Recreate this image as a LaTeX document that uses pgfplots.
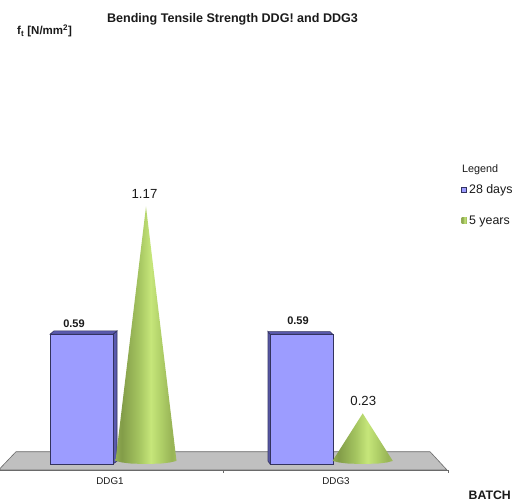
\documentclass[border=0pt]{standalone}
\usepackage{fontspec}
\setmainfont{Liberation Sans}
\usepackage{pgfplots}
\pgfplotsset{compat=1.18}

\definecolor{barfront}{HTML}{9C9CFF}
\definecolor{barside}{HTML}{5A5AAE}
\definecolor{barline}{HTML}{33335F}
\definecolor{floorgrey}{HTML}{C0C0C0}
\definecolor{floorline}{HTML}{6A6A6A}
\definecolor{conelegend}{HTML}{9CBB5C}
\definecolor{txt}{HTML}{1A1A1A}

% The lit cone surface: darker left flank, bright stripe right of centre
\pgfdeclarehorizontalshading{conegreen}{100bp}{
  color(0bp)=(white);
  color(25bp)=({rgb,255:red,146;green,172;blue,84});
  color(30bp)=({rgb,255:red,130;green,156;blue,72});
  color(44bp)=({rgb,255:red,164;green,196;blue,96});
  color(54bp)=({rgb,255:red,198;green,230;blue,122});
  color(62bp)=({rgb,255:red,176;green,208;blue,104});
  color(71bp)=({rgb,255:red,152;green,180;blue,86});
  color(75bp)=({rgb,255:red,160;green,188;blue,94});
  color(100bp)=(white)}

\newcommand{\fs}[1]{\fontsize{#1bp}{#1bp}\selectfont}

\begin{document}
\begin{tikzpicture}[x=1bp,y=1bp]
\useasboundingbox (0,0) rectangle (516,501);
\fill[white] (0,0) rectangle (516,501);
\begin{axis}[
  at={(0,0)}, anchor=south west,
  scale only axis, width=516bp, height=501bp,
  xmin=0, xmax=516,
  ymin=-0.16818, ymax=2.10909,
  hide axis, clip=false,
  legend style={at={(axis cs:461,1.28)}, anchor=north west, draw=none, fill=none,
    font=\fs{12.4}\color{txt}, row sep=16.5bp, inner sep=0pt,
    /tikz/every even column/.style={column sep=3bp}},
  legend cell align=left,
]
% Floor of the chart
\addplot[forget plot, draw=floorline, line width=0.6bp, fill=floorgrey] coordinates
  {(0,-0.0205) (16,0.0559) (430,0.0559) (447,-0.0273) (0,-0.0273)} -- cycle;
\addplot[forget plot, draw=floorline, line width=1bp] coordinates {(0,-0.0273) (448,-0.0273)};
\addplot[forget plot, draw=floorline, line width=0.7bp] coordinates {(223,-0.0273) (223,-0.0409)};
\addplot[forget plot, draw=floorline, line width=0.7bp] coordinates {(448,-0.0273) (448,-0.0409)};

% 28 days: side and top faces, then the fronts
\addplot[forget plot, draw=barline, line width=0.6bp, fill=barside] coordinates
  {(113,0) (113,0.59) (117,0.605) (117,0.013)} -- cycle;
\addplot[forget plot, draw=barline, line width=0.6bp, fill=barside] coordinates
  {(50,0.59) (54,0.605) (117,0.605) (113,0.59)} -- cycle;
\addplot[forget plot, draw=barline, line width=0.6bp, fill=barside] coordinates
  {(270,0) (270,0.59) (268,0.602) (268,0.013)} -- cycle;
\addplot[forget plot, draw=barline, line width=0.6bp, fill=barside] coordinates
  {(270,0.59) (268,0.602) (330,0.602) (332.7,0.59)} -- cycle;
\addplot[ybar, bar width=63bp, bar shift=0pt, draw=barline, line width=0.6bp, fill=barfront,
  legend image code/.code={\draw[draw=barline, line width=0.7bp, fill=barfront]
    (0bp,-2.6bp) rectangle (5.2bp,2.6bp);}]
  coordinates {(81.5,0.59) (301.4,0.59)};
\addlegendentry{28 days}

% 5 years: cones with a curved base
\addplot[draw=none, shading=conegreen,
  legend image code/.code={\fill[conelegend] (0bp,-2.6bp) rectangle (5.2bp,2.6bp);}]
  coordinates {(115.5,0.014) (122,0.007) (131,0.002) (146,0) (161,0.002) (170,0.007) (176.5,0.014) (146,1.17)} -- cycle;
\addlegendentry{5 years}
\addplot[forget plot, draw=none, shading=conegreen]
  coordinates {(332.5,0.014) (339,0.007) (348,0.002) (362.7,0) (378,0.002) (387,0.007) (392.8,0.014) (362.7,0.23)} -- cycle;

% Value labels
\node[font=\fs{11}\bfseries, text=txt, above=2.5bp, inner sep=1bp] at (axis cs:74,0.605) {0.59};
\node[font=\fs{11}\bfseries, text=txt, above=5.5bp, inner sep=1bp] at (axis cs:298,0.605) {0.59};
\node[font=\fs{13.2}, text=txt, above=7bp, inner sep=1bp] at (axis cs:144.5,1.17) {1.17};
\node[font=\fs{13.2}, text=txt, above=7bp, inner sep=1bp] at (axis cs:363.3,0.23) {0.23};

% Category names
\node[font=\fs{9.8}, text=txt, inner sep=0pt] at (axis cs:110,-0.0773) {DDG1};
\node[font=\fs{9.8}, text=txt, inner sep=0pt] at (axis cs:336,-0.0773) {DDG3};
% Titles
\node[font=\fs{12.55}\bfseries, text=txt, inner sep=0pt] at (axis cs:232.5,2.0227) {Bending Tensile Strength DDG! and DDG3};
\node[font=\fs{11.5}\bfseries, text=txt, inner sep=0pt, anchor=west] at (axis cs:17,1.9682) {f\textsubscript{t} [N/mm\textsuperscript{2}]};
\node[font=\fs{12.3}\bfseries, text=txt, inner sep=0pt, anchor=east] at (axis cs:511,-0.1409) {BATCH};
\node[font=\fs{10.8}, text=txt, inner sep=0pt, anchor=west] at (axis cs:462,1.3364) {Legend};
\end{axis}
\end{tikzpicture}
\end{document}
